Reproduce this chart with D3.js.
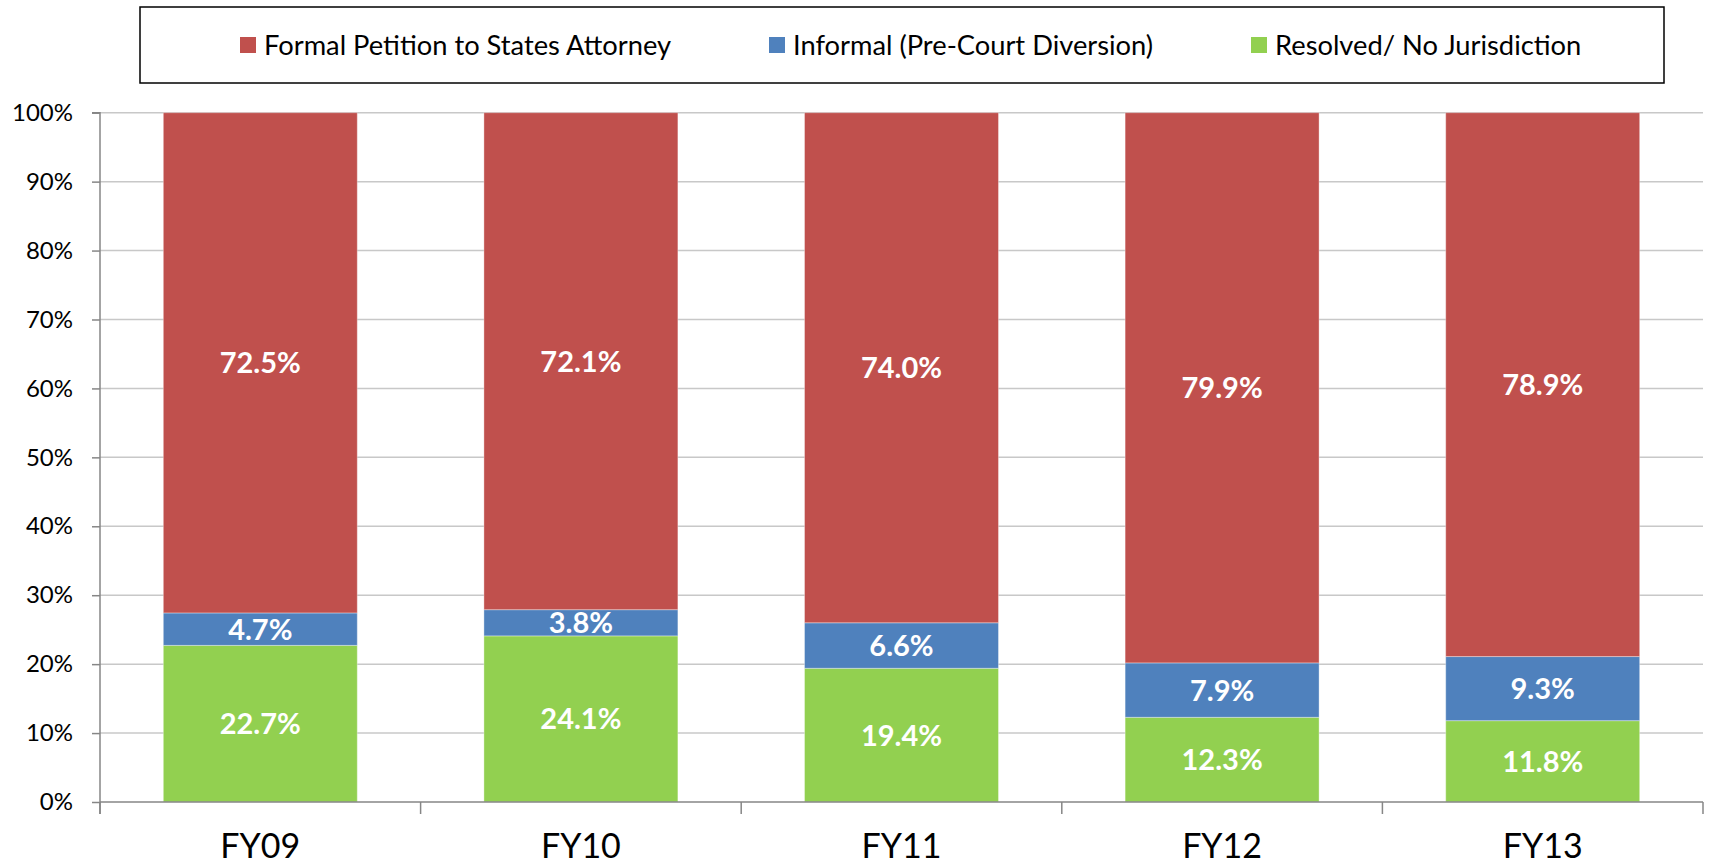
<!DOCTYPE html>
<html>
<head>
<meta charset="utf-8">
<script src="https://cdn.jsdelivr.net/npm/d3@7"></script>
<style>
  html, body { margin: 0; padding: 0; background: #fff; }
  svg { display: block; font-family: Lato, "Open Sans", sans-serif; }
</style>
</head>
<body>
<svg id="chart" width="1711" height="866"></svg>
<script>
// chart values
var categories = ['FY09', 'FY10', 'FY11', 'FY12', 'FY13'];
var formal = [72.5, 72.1, 74.0, 79.9, 78.9];
var informal = [4.7, 3.8, 6.6, 7.9, 9.3];
var resolved = [22.7, 24.1, 19.4, 12.3, 11.8];
var seriesNames = ['Formal Petition to States Attorney', 'Informal (Pre-Court Diversion)', 'Resolved/ No Jurisdiction'];
var yTicks = [0, 0.1, 0.2, 0.3, 0.4, 0.5, 0.6, 0.7, 0.8, 0.9, 1];

var colors = {
  resolved: '#92D050',
  informal: '#4F81BD',
  formal: '#C0504D'
};

var svg = d3.select('#chart'),
    m_left = 100,
    m_right = 1703,
    m_top = 112.7,
    m_bottom = 802;

var rows = categories.map(function (c, i) {
  return {cat: c, resolved: resolved[i], informal: informal[i], formal: formal[i]};
});

// bottom to top: green, blue, red
var keys = ['resolved', 'informal', 'formal'];
var stacked = d3.stack().keys(keys).offset(d3.stackOffsetExpand)(rows);

var x = d3.scaleBand().domain(categories).range([m_left, m_right]).paddingInner(0.395).paddingOuter(0.1975);
var y = d3.scaleLinear().domain([0, 1]).range([m_bottom, m_top]);

// gridlines
svg.append('g')
  .selectAll('line')
  .data(yTicks.slice(1))
  .enter().append('line')
    .attr('x1', m_left).attr('x2', m_right)
    .attr('y1', function (d) { return y(d); })
    .attr('y2', function (d) { return y(d); })
    .attr('stroke', '#c8c8c8')
    .attr('stroke-width', 1.5);

// bars
var groups = svg.append('g').selectAll('g')
  .data(stacked)
  .enter().append('g')
    .attr('fill', function (d) { return colors[d.key]; });

groups.selectAll('rect')
  .data(function (d) { return d; })
  .enter().append('rect')
    .attr('x', function (d) { return x(d.data.cat); })
    .attr('width', x.bandwidth())
    .attr('y', function (d) { return y(d[1]); })
    .attr('height', function (d) { return y(d[0]) - y(d[1]); })
    .attr('stroke', 'rgba(255,255,255,0.35)')
    .attr('stroke-width', 1);

// value labels
groups.selectAll('text')
  .data(function (s) {
    return s.map(function (d) { return {d: d, key: s.key}; });
  })
  .enter().append('text')
    .attr('x', function (o) { return x(o.d.data.cat) + x.bandwidth() / 2; })
    .attr('y', function (o) { return (y(o.d[0]) + y(o.d[1])) / 2; })
    .attr('dy', '0.36em')
    .attr('text-anchor', 'middle')
    .attr('fill', '#fff')
    .attr('font-weight', 'bold')
    .attr('font-size', 29)
    .text(function (o) { return o.d.data[o.key].toFixed(1) + '%'; });

// y axis
var yAxis = svg.append('g')
  .attr('transform', 'translate(' + m_left + ',0)')
  .call(d3.axisLeft(y).tickValues(yTicks).tickFormat(d3.format('.0%')).tickSize(8).tickPadding(19));
yAxis.select('.domain').attr('stroke', '#868686').attr('stroke-width', 1.5)
  .attr('d', 'M-8,' + m_top + 'H0V' + (m_bottom + 12));
yAxis.selectAll('.tick line').attr('stroke', '#868686').attr('stroke-width', 1.5);
yAxis.selectAll('.tick text').attr('font-size', 24).attr('fill', '#000')
  .attr('font-family', 'Lato, "Open Sans", sans-serif');

// x axis: ticks on the category boundaries
var xAxis = svg.append('g')
  .attr('transform', 'translate(0,' + m_bottom + ')');
xAxis.append('line')
  .attr('x1', m_left).attr('x2', m_right)
  .attr('stroke', '#868686').attr('stroke-width', 1.5);
var bounds = categories.map(function (c) { return x(c) - x.step() * x.paddingOuter(); });
bounds.push(m_right);
xAxis.selectAll('.xt')
  .data(bounds)
  .enter().append('line')
    .attr('class', 'xt')
    .attr('x1', function (d) { return d; })
    .attr('x2', function (d) { return d; })
    .attr('y1', 0).attr('y2', 12)
    .attr('stroke', '#868686').attr('stroke-width', 1.5);
xAxis.selectAll('text')
  .data(categories)
  .enter().append('text')
    .attr('x', function (d) { return x(d) + x.bandwidth() / 2; })
    .attr('y', 56)
    .attr('text-anchor', 'middle')
    .attr('font-size', 34)
    .attr('fill', '#000')
    .text(function (d) { return d; });

// legend
var legend = svg.append('g');
legend.append('rect')
  .attr('x', 140).attr('y', 7)
  .attr('width', 1524).attr('height', 76)
  .attr('fill', '#fff')
  .attr('stroke', '#000')
  .attr('stroke-width', 1.5);

var legendX = [240, 769, 1251];
var legendKeys = ['formal', 'informal', 'resolved'];
var items = legend.selectAll('g')
  .data(legendKeys)
  .enter().append('g')
    .attr('transform', function (d, i) { return 'translate(' + legendX[i] + ',45)'; });
items.append('rect')
  .attr('x', 0).attr('y', -8)
  .attr('width', 16).attr('height', 16)
  .attr('fill', function (d) { return colors[d]; });
items.append('text')
  .attr('x', 24)
  .attr('dy', '0.36em')
  .attr('font-size', 27.3)
  .attr('fill', '#000')
  .text(function (d, i) { return seriesNames[i]; });
</script>
</body>
</html>
